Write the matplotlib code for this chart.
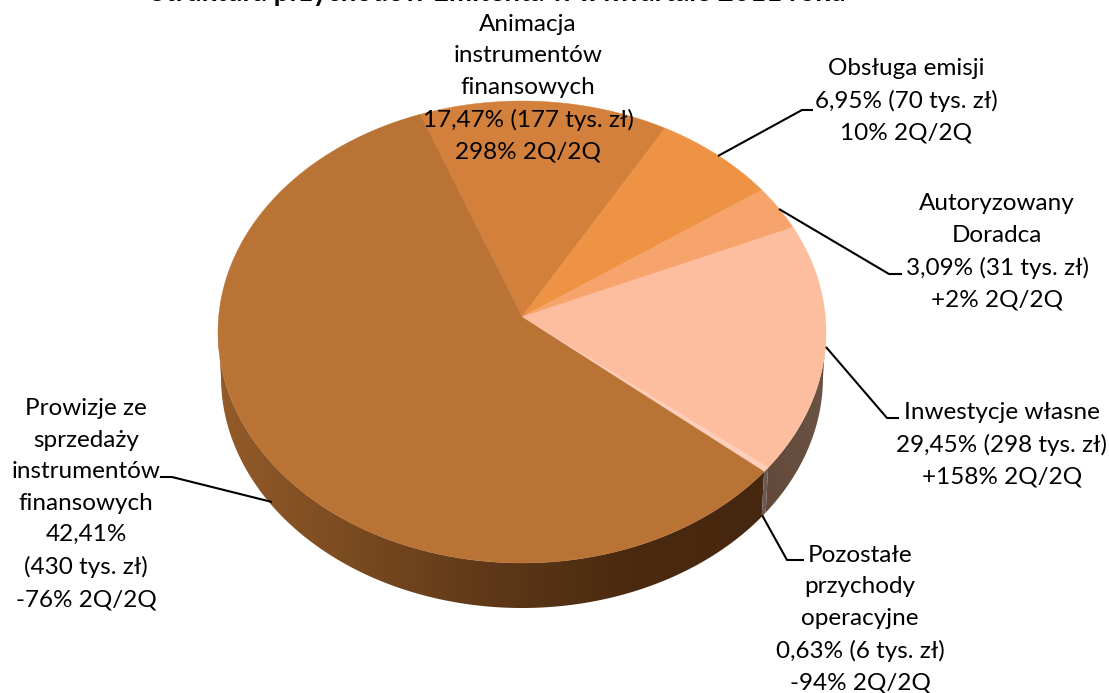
import numpy as np
import matplotlib
matplotlib.use('Agg')
import matplotlib.pyplot as plt
from matplotlib.colors import LinearSegmentedColormap
from matplotlib.patches import Polygon

# shares as drawn in the picture (clockwise from start_angle), labels say otherwise
names = ['Animacja', 'Obsluga', 'Autoryzowany', 'Inwestycje', 'Pozostale', 'Prowizje']
shares = [13.25, 6.67, 3.06, 17.47, 0.35, 59.25]
top_colors = ['#D4803D', '#EE9244', '#F6A46C', '#FCBE9E', '#FDCFBB', '#B97334']

labels = [
    'Animacja\ninstrumentów\nfinansowych\n17,47% (177 tys. zł)\n298% 2Q/2Q',
    'Obsługa emisji\n6,95% (70 tys. zł)\n10% 2Q/2Q',
    'Autoryzowany\nDoradca\n3,09% (31 tys. zł)\n+2% 2Q/2Q',
    'Inwestycje własne\n29,45% (298 tys. zł)\n+158% 2Q/2Q',
    'Pozostałe\nprzychody\noperacyjne\n0,63% (6 tys. zł)\n-94% 2Q/2Q',
    'Prowizje ze\nsprzedaży\ninstrumentów\nfinansowych\n42,41%\n(430 tys. zł)\n-76% 2Q/2Q',
]
label_pos = [(528, 88), (906, 101), (997, 252), (1002, 445), (860, 619), (86, 504)]

leaders = [
    [(718, 156), (802, 110), (813, 110)],
    [(779, 209), (889, 274), (902, 274)],
    [(826, 347), (887, 418), (899, 418)],
    [(762, 515), (787, 560), (804, 560)],
    [(272, 502), (172, 477), (160, 477)],
]

start_angle = 109.6
cx, cy, rx, ry = 522, 332, 304, 231      # top rim
bx, by, brx, bry = 522, 377, 301, 231    # bottom rim
apex = (522, 317)

plt.rcParams['font.family'] = ['Lato', 'DejaVu Sans']
fig = plt.figure(figsize=(11.09, 6.93), dpi=100)
ax = fig.add_axes([0, 0, 1, 1])
ax.set_xlim(0, 1109)
ax.set_ylim(693, 0)
ax.axis('off')


def rim(t, x0, y0, a, b):
    r = np.radians(t)
    return np.column_stack([x0 + a * np.cos(r), y0 - b * np.sin(r)])


def side(t0, t1, stops, z):
    # wall between two angles, filled with a left to right gradient
    t = np.linspace(t0, t1, 200)
    pts = np.vstack([rim(t, cx, cy, rx, ry), rim(t[::-1], bx, by, brx, bry)])
    poly = Polygon(pts, closed=True, fc='none', ec='none', transform=ax.transData)
    ax.add_patch(poly)
    cmap = LinearSegmentedColormap.from_list('s', stops)
    im = ax.imshow(np.linspace(0, 1, 256).reshape(1, -1), cmap=cmap, aspect='auto',
                   extent=[pts[:, 0].min(), pts[:, 0].max(), 693, 0], zorder=z)
    im.set_clip_path(poly)


edges = start_angle - np.cumsum([0] + shares) / sum(shares) * 360

# walls, only the front half can be seen
side(-180, edges[5], ['#935B29', '#7A4A20', '#5E3818', '#4A2A10', '#46270F'], 1)
side(edges[5], edges[4], ['#6A5A52', '#6A5A52'], 1)
side(edges[4], 0, ['#62493A', '#6B5445'], 1)
ax.set_xlim(0, 1109)
ax.set_ylim(693, 0)

for i in range(len(shares)):
    t = np.linspace(edges[i], edges[i + 1], 300)
    pts = np.vstack([[apex], rim(t, cx, cy, rx, ry)])
    ax.fill(pts[:, 0], pts[:, 1], color=top_colors[i], lw=0.3, zorder=2)

for line in leaders:
    xs, ys = zip(*line)
    ax.plot(xs, ys, color='black', lw=1.5, zorder=3, solid_capstyle='butt')

for txt, (x, y) in zip(labels, label_pos):
    ax.text(x, y, txt, ha='center', va='center', fontsize=17.5, linespacing=1.62,
            color='black', zorder=4)

# chart title is cut off by the top edge of the picture
ax.text(150, 0.5, 'Struktura przychodów Emitenta w II kwartale 2011 roku', ha='left', va='baseline',
        fontsize=20, fontweight='bold', color='black', zorder=4)

fig.savefig('out.png', dpi=100)
